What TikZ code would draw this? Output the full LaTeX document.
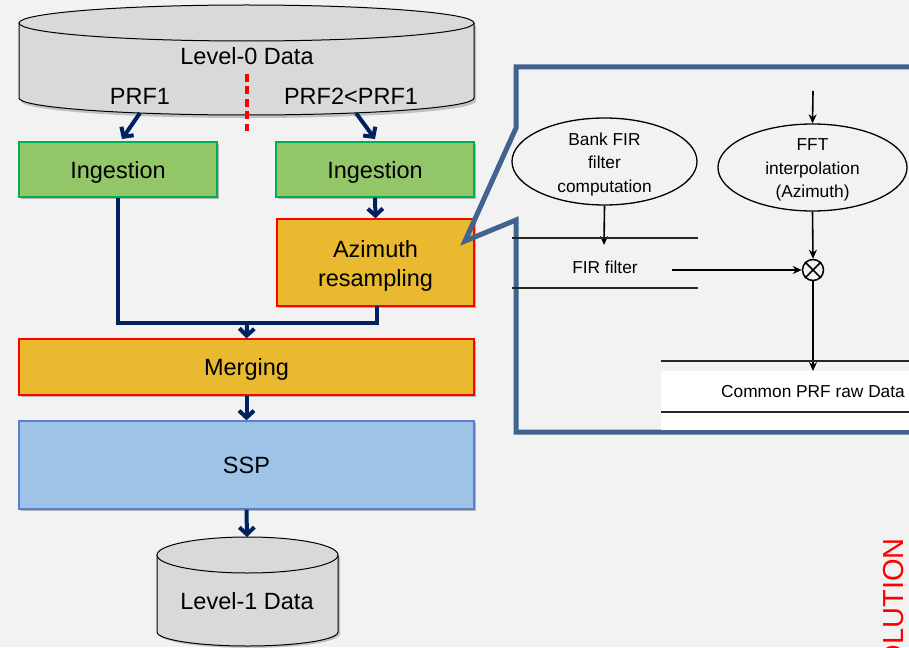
\documentclass[tikz,border=0pt]{standalone}
\usepackage{fontspec}
\setmainfont{Liberation Sans}
\usetikzlibrary{arrows.meta,shapes.geometric,shadows}
\definecolor{bgc}{RGB}{242,242,242}
\definecolor{navy}{RGB}{0,32,96}
\definecolor{ingfill}{RGB}{147,198,104}
\definecolor{ingline}{RGB}{0,176,80}
\definecolor{goldfill}{RGB}{233,185,47}
\definecolor{redline}{RGB}{255,0,0}
\definecolor{sspfill}{RGB}{157,195,230}
\definecolor{sspline}{RGB}{91,127,208}
\definecolor{cylfill}{RGB}{217,217,217}
\definecolor{callc}{RGB}{65,100,143}
\tikzset{
  bigfont/.style={font=\fontsize{23.5}{29}\selectfont},
  smallfont/.style={font=\fontsize{17.3}{23.5}\selectfont},
  boxshadow/.style={drop shadow={shadow xshift=2pt,shadow yshift=-2pt,opacity=0.25,fill=black}},
  ingbox/.style={draw=ingline,fill=ingfill,line width=1.3pt,bigfont,inner sep=0pt,text depth=0pt,boxshadow},
  goldbox/.style={draw=redline,fill=goldfill,line width=1.3pt,bigfont,inner sep=0pt,text depth=0pt,boxshadow},
  sspbox/.style={draw=sspline,fill=sspfill,line width=1.3pt,bigfont,inner sep=0pt,boxshadow},
  plaintext/.style={bigfont,align=center,inner sep=0pt},
  flow/.style={draw=navy,line width=4pt,-{Straight Barb[length=7pt,width=15pt,line width=4pt]}},
  flowline/.style={draw=navy,line width=4pt},
  cyl/.style={draw=black,fill=cylfill,line width=1pt},
  oval/.style={draw=black,ellipse,line width=1.3pt,inner sep=0pt},
  ovaltext/.style={smallfont,align=center,inner sep=0pt},
  thin/.style={draw=black!85,line width=1.6pt},
  thinarrow/.style={draw=black,line width=1.6pt,-{Stealth[length=9pt,width=8pt]}},
  callout/.style={draw=callc,line width=5pt,line join=miter}
}
\begin{document}
\begin{tikzpicture}[x=1pt,y=-1pt]
\clip (0,0) rectangle (909,647);
\fill[bgc] (0,0) rectangle (909,647);

% top cylinder
\fill[black,opacity=0.2] (21,26) -- (21,101) arc[start angle=180,end angle=0,x radius=227.5,y radius=17] -- (476,26) -- cycle;
\draw[cyl] (19,23) -- (19,98) arc[start angle=180,end angle=0,x radius=227.5,y radius=17] -- (474,23);
\draw[cyl] (246.5,23) ellipse[x radius=227.5,y radius=18];
\node[bigfont] (lvl0) at (247,56) {Level-0 Data};
\node[bigfont] (prf1) at (140,96) {PRF1};
\node[bigfont] (prf2) at (351,96) {PRF2<PRF1};
\coordinate (sepT) at (247,74);
\coordinate (sepB) at (247,131);
\draw[redline,line width=3.5pt,dash pattern=on 8pt off 4.5pt] (sepT) -- (sepB);

% boxes
\node[ingbox,minimum width=198pt,minimum height=55pt] (ing1) at (118,169.5) {Ingestion};
\node[ingbox,minimum width=198pt,minimum height=55pt] (ing2) at (375,169.5) {Ingestion};
\node[goldbox,minimum width=197pt,minimum height=87pt] (az) at (375.5,262.5) {};
\node[plaintext] (aztext) at (375.5,265.5) {Azimuth\\resampling};
\node[goldbox,minimum width=455pt,minimum height=56pt] (merge) at (246.5,367) {Merging};
\node[sspbox,minimum width=455pt,minimum height=88pt] (ssp) at (246.5,465) {SSP};

% connectors
\coordinate (a1s) at (140,113);
\coordinate (a1e) at (122,139);
\coordinate (a2s) at (356,113);
\coordinate (a2e) at (375,139);
\draw[flow] (a1s) -- (a1e);
\draw[flow] (a2s) -- (a2e);
\draw[flow] (ing2.south) -- (az.north);
\coordinate (mj) at (247,323);
\coordinate (azs) at (377,306);
\draw[flowline,line join=miter] (ing1.south) |- (mj);
\draw[flowline,line join=miter] (azs) |- (mj);
\draw[flow] (mj) -- (merge.north);
\draw[flow] (merge.south) -- (ssp.north);
\coordinate (l1top) at (247,537);
\draw[flow] (ssp.south) -- (l1top);

% bottom cylinder
\fill[black,opacity=0.2] (159,557) -- (159,634) arc[start angle=180,end angle=0,x radius=90.5,y radius=14] -- (340,557) -- cycle;
\draw[cyl] (157,555) -- (157,632) arc[start angle=180,end angle=0,x radius=90.5,y radius=14] -- (338,555);
\draw[cyl] (247.5,555) ellipse[x radius=90.5,y radius=18];
\node[bigfont] (lvl1) at (247,601) {Level-1 Data};

% callout
\draw[callout] (915,67) -- (516,67) -- (516,128) -- (465,241) -- (516,220) -- (516,432) -- (915,432);

% inner diagram
\fill[white] (661,371) rectangle (909,430);
\node[oval,minimum width=185pt,minimum height=87pt] (bank) at (604.5,161.5) {};
\node[ovaltext] (banktext) at (604.5,164.5) {Bank FIR\\filter\\computation};
\node[oval,minimum width=189pt,minimum height=87pt] (fft) at (812.5,167.5) {};
\node[ovaltext] (ffttext) at (812.5,170) {FFT\\interpolation\\(Azimuth)};
\node[draw=black,line width=1.5pt,circle,minimum size=21pt,inner sep=0pt] (mult) at (813,270) {};
\draw[thin,black] (mult.north east) -- (mult.south west);
\draw[thin,black] (mult.north west) -- (mult.south east);
\coordinate (ffttop) at (813,91);
\draw[thinarrow] (ffttop) -- (fft.north);
\coordinate (firtop) at (604,245);
\draw[thinarrow] (bank.south) -- (firtop);
\coordinate (l1a) at (512,238); \coordinate (l1b) at (698,238);
\coordinate (l2a) at (512,288); \coordinate (l2b) at (698,288);
\draw[thin] (l1a) -- (l1b);
\draw[thin] (l2a) -- (l2b);
\node[smallfont] (fir) at (605,267) {FIR filter};
\coordinate (firout) at (672,270);
\draw[thinarrow] (firout) -- (mult.west);
\draw[thinarrow] (fft.south) -- (mult.north);
\coordinate (cpin) at (813,371);
\draw[thinarrow] (mult.south) -- (cpin);
\coordinate (l3a) at (661,361); \coordinate (l3b) at (909,361);
\coordinate (l4a) at (661,412); \coordinate (l4b) at (909,412);
\draw[thin] (l3a) -- (l3b);
\draw[thin] (l4a) -- (l4b);
\node[smallfont] (cprf) at (813,392) {Common PRF raw Data};

% red rotated text (cut off by the lower edge, as in the reference)
\node[text=redline,font=\fontsize{29}{30}\selectfont,rotate=90,anchor=base east,inner sep=0pt] (sol) at (903,538) {OLUTION};
\end{tikzpicture}
\end{document}
